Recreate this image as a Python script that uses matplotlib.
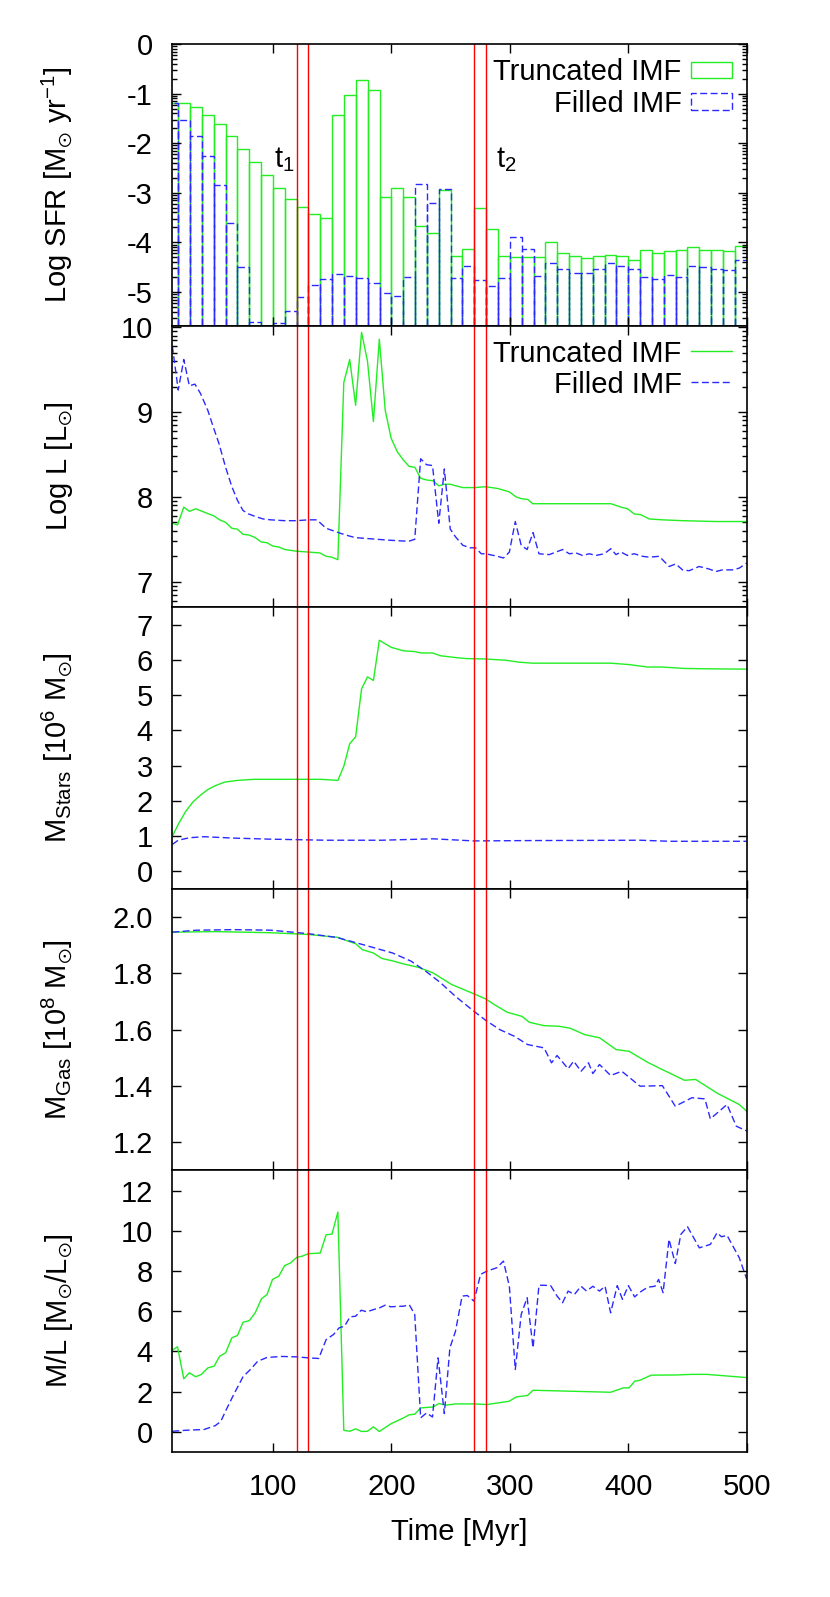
import numpy as np
import matplotlib
matplotlib.use('Agg')
import matplotlib.pyplot as plt
from matplotlib.ticker import FixedLocator, FuncFormatter, LogLocator, NullFormatter
from matplotlib.patches import Rectangle
from matplotlib.lines import Line2D

plt.rcParams['font.family'] = ['Liberation Sans', 'DejaVu Sans']
plt.rcParams['mathtext.fontset'] = 'custom'
plt.rcParams['mathtext.rm'] = 'Liberation Sans'
plt.rcParams['mathtext.it'] = 'Liberation Sans'
plt.rcParams['mathtext.default'] = 'regular'
plt.rcParams['font.size'] = 21

# --- data -------------------------------------------------------------
# SFR histogram, 10 Myr bins (left edges), log10 values
sfr_bins = np.arange(10, 500, 10)
sfr_trunc = [-1.18, -1.19, -1.28, -1.43, -1.62, -1.86, -2.11, -2.38, -2.64, -2.90,
             -3.12, -3.29, -3.43, -3.50, -1.43, -1.03, -0.73, -0.92, -3.08, -2.90,
             -3.08, -3.68, -3.81, -2.94, -4.27, -4.13, -3.30, -3.74, -4.28, -4.29,
             -4.30, -4.29, -3.99, -4.21, -4.27, -4.32, -4.28, -4.26, -4.28, -4.35,
             -4.15, -4.21, -4.17, -4.16, -4.09, -4.15, -4.16, -4.18, -4.07]
sfr_filled = [-1.20, -1.54, -1.86, -2.26, -2.85, -3.62, -4.50, -5.60, np.nan, -5.62,
              -5.38, -5.10, -4.87, -4.74, -4.63, -4.67, -4.71, -4.82, -5.03, -5.09,
              -4.70, -2.83, -3.21, -2.93, -4.72, -4.48, -4.76, -4.89, -4.72, -3.89,
              -4.13, -4.68, -4.41, -4.53, -4.61, -4.61, -4.53, -4.42, -4.48, -4.53,
              -4.69, -4.74, -4.66, -4.70, -4.48, -4.50, -4.54, -4.55, -4.36]

# log luminosity
t_L_trunc = [15, 19.4, 24.7, 29.4, 34.7, 40.3, 45.6, 49.7, 55, 60, 65.3, 70, 74.6, 80, 85,
             90, 95, 100, 105, 110, 120, 130, 139.5, 145, 149.5, 154.8, 159.8, 164.8,
             169.8, 174.8, 179.8, 184.8, 189.8, 194.8, 199.8, 205.1, 210.4, 215, 219.8,
             224.7, 229.7, 235.4, 240, 244.7, 249.7, 254.7, 260.3, 269.7, 279.7, 289.6,
             299.6, 305.3, 309.5, 315.1, 319.3, 385.4, 393.8, 399.4, 405, 410.7, 417.7,
             428.9, 445.8, 474, 500]
L_trunc = [7.69, 7.67, 7.88, 7.83, 7.86, 7.83, 7.80, 7.78, 7.73, 7.70, 7.63, 7.62, 7.56,
           7.55, 7.52, 7.47, 7.46, 7.42, 7.41, 7.38, 7.36, 7.35, 7.34, 7.30, 7.29, 7.26,
           9.35, 9.62, 9.08, 9.94, 9.60, 8.89, 9.86, 9.02, 8.69, 8.53, 8.43, 8.36, 8.35,
           8.22, 8.20, 8.19, 8.13, 8.15, 8.15, 8.13, 8.11, 8.11, 8.12, 8.10, 8.06, 8.00,
           7.98, 7.97, 7.92, 7.92, 7.88, 7.86, 7.80, 7.79, 7.74, 7.73, 7.72, 7.71, 7.71]
t_L_filled = [15, 20, 24.7, 29.4, 34.1, 38.8, 45, 49.7, 54.4, 60, 65.3, 70, 74.7, 79.3, 85,
              91.8, 98.1, 109.9, 119.9, 129.9, 137.1, 144.9, 151.1, 157.3, 164.2, 169.8,
              179.2, 188.5, 197.9, 210.4, 215.1, 219.7, 224.7, 229.7, 234.7, 240, 244.7,
              249.7, 254.1, 260.3, 266.5, 271.2, 275.9, 279.6, 289.6, 294.6, 299.6, 304.6,
              309.6, 314.6, 319.6, 324.6, 333.3, 344.6, 350.2, 355.8, 361.4, 367.1, 372.7,
              379.7, 385.3, 389.6, 393.8, 399.4, 405, 412, 417.7, 426.1, 434.5, 440.1,
              445.8, 451.4, 459.8, 468.3, 473.9, 479.5, 487.9, 493.6, 500]
L_filled = [9.78, 9.26, 9.62, 9.31, 9.33, 9.22, 9.02, 8.82, 8.63, 8.35, 8.12, 7.96, 7.84,
            7.80, 7.77, 7.74, 7.73, 7.72, 7.72, 7.73, 7.73, 7.63, 7.60, 7.57, 7.54, 7.52,
            7.51, 7.50, 7.49, 7.48, 7.48, 7.50, 8.45, 8.38, 8.37, 7.69, 8.33, 7.62, 7.53,
            7.43, 7.40, 7.40, 7.33, 7.33, 7.30, 7.28, 7.35, 7.71, 7.43, 7.38, 7.58, 7.33,
            7.32, 7.38, 7.33, 7.34, 7.31, 7.33, 7.31, 7.33, 7.39, 7.32, 7.35, 7.31, 7.33,
            7.30, 7.29, 7.30, 7.18, 7.21, 7.14, 7.13, 7.18, 7.15, 7.12, 7.14, 7.14, 7.16,
            7.22]

# stellar mass [1e6 Msun]
t_ms_trunc = [15, 20, 26.3, 32.5, 38.8, 45, 51.3, 59.1, 70, 84, 98.1, 129.3, 140.2, 154.8,
              159.8, 164.8, 169.8, 174.8, 179.8, 184.8, 189.8, 199.8, 210.4, 219.7, 224.7,
              234.7, 241.6, 254.1, 263.4, 279, 297.7, 307.1, 319.6, 385.1, 400.7, 416.3,
              428.8, 447.5, 466.2, 500]
ms_trunc = [0.99, 1.33, 1.70, 1.97, 2.16, 2.32, 2.43, 2.53, 2.58, 2.61, 2.61, 2.61, 2.61,
            2.58, 2.98, 3.62, 3.82, 5.18, 5.52, 5.42, 6.56, 6.36, 6.26, 6.24, 6.20, 6.20,
            6.12, 6.07, 6.04, 6.03, 5.99, 5.94, 5.91, 5.91, 5.87, 5.80, 5.80, 5.76, 5.75,
            5.74]
t_ms_filled = [15, 20, 29.4, 41.9, 66.9, 98.1, 144.9, 191.7, 235.3, 269.7, 316.5, 410, 435, 500]
ms_filled = [0.76, 0.88, 0.95, 0.98, 0.94, 0.91, 0.88, 0.88, 0.92, 0.86, 0.87, 0.88, 0.85, 0.85]

# gas mass [1e8 Msun]
t_mg_trunc = [15, 51.3, 98.1, 129.3, 154.2, 163.6, 169.8, 175.4, 184.8, 191.7, 201, 210.4,
              222.9, 235.3, 250.9, 269.7, 279.6, 286.8, 297.7, 310.2, 316.5, 328.9, 341.4,
              350.8, 363.3, 375.7, 389.8, 400.7, 416.3, 428.8, 447.5, 456.9, 475.6, 493.7, 500]
mg_trunc = [1.946, 1.948, 1.944, 1.938, 1.928, 1.914, 1.905, 1.884, 1.872, 1.853, 1.844,
            1.833, 1.821, 1.801, 1.760, 1.727, 1.709, 1.689, 1.662, 1.647, 1.626, 1.614,
            1.612, 1.605, 1.582, 1.571, 1.529, 1.523, 1.484, 1.458, 1.420, 1.423, 1.373,
            1.334, 1.31]
t_mg_filled = [15, 35.7, 66.9, 98.1, 129.3, 154.2, 179.2, 201, 216.6, 229.1, 241.6, 254.1,
               269.7, 279.6, 291.5, 304, 314.9, 328.9, 335.2, 339.9, 349.2, 353.9, 360.1,
               366.4, 370.1, 375.7, 385.1, 394.5, 410, 428.8, 439.7, 453.7, 464.7, 469.3,
               483.4, 491.2, 500]
mg_filled = [1.946, 1.953, 1.955, 1.953, 1.941, 1.927, 1.898, 1.872, 1.843, 1.807, 1.766,
             1.718, 1.665, 1.633, 1.600, 1.576, 1.547, 1.535, 1.482, 1.508, 1.461, 1.488,
             1.452, 1.482, 1.444, 1.476, 1.437, 1.452, 1.399, 1.401, 1.328, 1.358, 1.354,
             1.283, 1.334, 1.257, 1.24]

# mass-to-light ratio
t_ml_trunc = [15, 19.4, 24.7, 29.4, 34.7, 39.4, 45, 50.3, 55, 60, 65.3, 70, 74.7, 80, 85,
              90.3, 95, 99.6, 104.9, 109.9, 114.9, 119.9, 124.9, 129.9, 139.9, 144.9, 149.8,
              154.8, 159.8, 164.8, 169.8, 174.8, 179.8, 184.8, 189.8, 199.8, 210.4, 215.1,
              219.7, 224.7, 235.3, 240, 246.2, 254.1, 269.7, 280.6, 290, 299.3, 305.5,
              314.9, 319.6, 385.1, 396, 400.7, 405.4, 410, 419.4, 441.3, 453.7, 466.2,
              493.7, 500]
ml_trunc = [4.06, 4.23, 2.64, 2.94, 2.74, 2.85, 3.18, 3.27, 3.76, 3.93, 4.68, 4.79, 5.45,
            5.53, 5.92, 6.62, 6.83, 7.58, 7.74, 8.27, 8.40, 8.67, 8.74, 8.86, 8.89, 9.80,
            9.83, 10.93, 0.08, 0.03, 0.15, 0.02, 0.03, 0.25, 0.02, 0.41, 0.70, 0.85, 0.88,
            1.19, 1.24, 1.41, 1.33, 1.39, 1.39, 1.36, 1.44, 1.52, 1.74, 1.81, 2.07, 1.97,
            2.19, 2.19, 2.52, 2.57, 2.82, 2.83, 2.86, 2.86, 2.73, 2.70]
t_ml_filled = [15, 26.3, 41.9, 51.3, 55.9, 60.6, 66.9, 74.7, 80.9, 87.1, 95, 107.4, 119.9,
               129.9, 138.6, 144.9, 151.1, 155.8, 160.5, 165.1, 169.8, 174.5, 179.2, 185.4,
               190.1, 194.8, 199.5, 210.4, 215.1, 219.7, 224.7, 229.7, 234.7, 239.4, 244.7,
               249.4, 254.1, 259.7, 264.1, 269.7, 275.3, 280.6, 289, 294.6, 299.6, 304.6,
               309.6, 314.6, 319.6, 324.6, 328.9, 334.5, 339.9, 344.5, 349.2, 354.5, 360.1,
               364.8, 370.1, 375.7, 380.4, 385.1, 390.7, 395.1, 400.1, 405.4, 410, 416.3,
               422.5, 425.6, 429.4, 434.4, 439.7, 444.4, 450, 460, 469.3, 475, 478.7,
               483.4, 493.7, 500]
ml_filled = [0.03, 0.08, 0.12, 0.31, 0.52, 1.11, 1.86, 2.74, 3.10, 3.51, 3.70, 3.75, 3.73,
             3.68, 3.65, 4.59, 4.84, 5.17, 5.26, 5.72, 5.75, 6.05, 5.97, 6.09, 6.17, 6.30,
             6.22, 6.25, 6.32, 5.84, 0.70, 0.94, 0.74, 3.68, 0.91, 4.18, 5.00, 6.75, 6.78,
             6.50, 7.83, 7.99, 8.16, 8.49, 7.24, 3.10, 5.84, 6.67, 4.18, 7.29, 7.29, 7.27,
             6.75, 6.42, 7.00, 6.83, 7.24, 7.00, 7.24, 7.00, 7.24, 5.92, 7.27, 6.59, 7.27,
             6.71, 6.95, 7.19, 7.24, 7.58, 6.92, 9.57, 8.37, 9.82, 10.20, 9.15, 9.32, 9.90,
             9.70, 9.77, 8.66, 7.6]

t_marks = [120, 130, 270, 280]

# --- figure -----------------------------------------------------------
GREEN = '#22ee22'
BLUE = '#2a2aff'
DASH = (5, 2.5)
W_PX, H_PX = 830, 1597

fig = plt.figure(figsize=(W_PX / 100, H_PX / 100), dpi=100)
left_px, right_px, top_px, panel_px = 172.3, 746.7, 44, 281.6
axes = []
for i in range(5):
    bottom = 1 - (top_px + (i + 1) * panel_px) / H_PX
    ax = fig.add_axes([left_px / W_PX, bottom, (right_px - left_px) / W_PX, panel_px / H_PX])
    axes.append(ax)

log_fmt = FuncFormatter(lambda v, p: '%d' % round(np.log10(v)))

# panel 1: SFR bars
ax = axes[0]
ax.bar(sfr_bins, 10 ** np.array(sfr_trunc) - 1e-9, width=10, bottom=1e-9, align='edge',
       fill=False, edgecolor=GREEN, linewidth=1.0)
sf = np.array(sfr_filled)
ok = ~np.isnan(sf)
ax.bar(sfr_bins[ok], 10 ** sf[ok] - 1e-9, width=10, bottom=1e-9, align='edge',
       fill=False, edgecolor=BLUE, linewidth=1.0, linestyle=(0, DASH))
ax.set_yscale('log')
ax.set_ylim(10 ** -5.68, 1)
ax.yaxis.set_major_locator(FixedLocator(10.0 ** np.arange(-5, 1)))
ax.yaxis.set_major_formatter(log_fmt)
ax.yaxis.set_minor_locator(LogLocator(base=10, subs=np.arange(2, 10) * 1.0, numticks=20))
ax.yaxis.set_minor_formatter(NullFormatter())
ax.set_ylabel(r'Log SFR [M$_{\odot}$ yr$^{-1}$]')
ax.text(101, 10 ** -2.48, r't$_1$')
ax.text(288.5, 10 ** -2.48, r't$_2$')

# panel 2: luminosity
ax = axes[1]
ax.plot(t_L_trunc, 10 ** np.array(L_trunc), color=GREEN, lw=1.0)
ax.plot(t_L_filled, 10 ** np.array(L_filled), color=BLUE, lw=1.0, dashes=DASH)
ax.set_yscale('log')
ax.set_ylim(10 ** 6.7, 10 ** 10.02)
ax.yaxis.set_major_locator(FixedLocator(10.0 ** np.arange(7, 11)))
ax.yaxis.set_major_formatter(log_fmt)
ax.yaxis.set_minor_locator(LogLocator(base=10, subs=np.arange(2, 10) * 1.0, numticks=20))
ax.yaxis.set_minor_formatter(NullFormatter())
ax.set_ylabel(r'Log L [L$_{\odot}$]')

# panel 3: stellar mass
ax = axes[2]
ax.plot(t_ms_trunc, ms_trunc, color=GREEN, lw=1.0)
ax.plot(t_ms_filled, ms_filled, color=BLUE, lw=1.0, dashes=DASH)
ax.set_ylim(-0.5, 7.5)
ax.yaxis.set_major_locator(FixedLocator(np.arange(0, 8)))
ax.set_ylabel(r'M$_{Stars}$ [10$^6$ M$_{\odot}$]')

# panel 4: gas mass
ax = axes[3]
ax.plot(t_mg_trunc, mg_trunc, color=GREEN, lw=1.0)
ax.plot(t_mg_filled, mg_filled, color=BLUE, lw=1.0, dashes=DASH)
ax.set_ylim(1.1, 2.1)
ax.yaxis.set_major_locator(FixedLocator([1.2, 1.4, 1.6, 1.8, 2.0]))
ax.yaxis.set_major_formatter(FuncFormatter(lambda v, p: '%.1f' % v))
ax.set_ylabel(r'M$_{Gas}$ [10$^8$ M$_{\odot}$]')

# panel 5: M/L
ax = axes[4]
ax.plot(t_ml_trunc, ml_trunc, color=GREEN, lw=1.0)
ax.plot(t_ml_filled, ml_filled, color=BLUE, lw=1.0, dashes=DASH)
ax.set_ylim(-1, 13)
ax.yaxis.set_major_locator(FixedLocator(np.arange(0, 13, 2)))
ax.set_ylabel(r'M/L [M$_{\odot}$/L$_{\odot}$]')
ax.set_xlabel('Time [Myr]')
ax.xaxis.set_label_coords(0.5, -0.235)

for i, ax in enumerate(axes):
    for t in t_marks:
        ax.axvline(t, color='red', lw=1.0)
    ax.set_xlim(15, 500)
    ax.xaxis.set_major_locator(FixedLocator([100, 200, 300, 400, 500]))
    ax.tick_params(which='both', direction='in', top=True, right=True, width=1.0)
    ax.tick_params(which='major', length=6.7, pad=14)
    ax.tick_params(which='minor', length=3.5)
    ax.tick_params(axis='x', which='major', pad=15)
    if i < 4:
        ax.tick_params(labelbottom=False)
    for s in ax.spines.values():
        s.set_linewidth(1.2)
    ax.yaxis.set_label_coords(-0.17, 0.5)


# legends drawn gnuplot-style: right aligned text, key on the right
def fx(x):
    return x / W_PX


def fy(y):
    return 1 - y / H_PX


key_x0, key_x1, text_x = 690.7, 731.5, 681.7
for j, (lab, col) in enumerate([('Truncated IMF', GREEN), ('Filled IMF', BLUE)]):
    base = 80 + j * 31.7
    mid = 70 + j * 31.7
    fig.text(fx(text_x), fy(base), lab, ha='right', va='baseline')
    rect = Rectangle((fx(key_x0), fy(mid + 8.3)), fx(key_x1 - key_x0), 16.6 / H_PX,
                     transform=fig.transFigure, fill=False, edgecolor=col, lw=1.0,
                     linestyle='-' if j == 0 else (0, DASH))
    fig.add_artist(rect)
for j, (lab, col) in enumerate([('Truncated IMF', GREEN), ('Filled IMF', BLUE)]):
    base = 361.7 + j * 31.7
    mid = 351 + j * 31.0
    fig.text(fx(text_x), fy(base), lab, ha='right', va='baseline')
    ln = Line2D([fx(key_x0), fx(key_x1)], [fy(mid), fy(mid)], transform=fig.transFigure,
                color=col, lw=1.0)
    if j == 1:
        ln.set_dashes(DASH)
    fig.add_artist(ln)

fig.savefig('out.png', dpi=100)
